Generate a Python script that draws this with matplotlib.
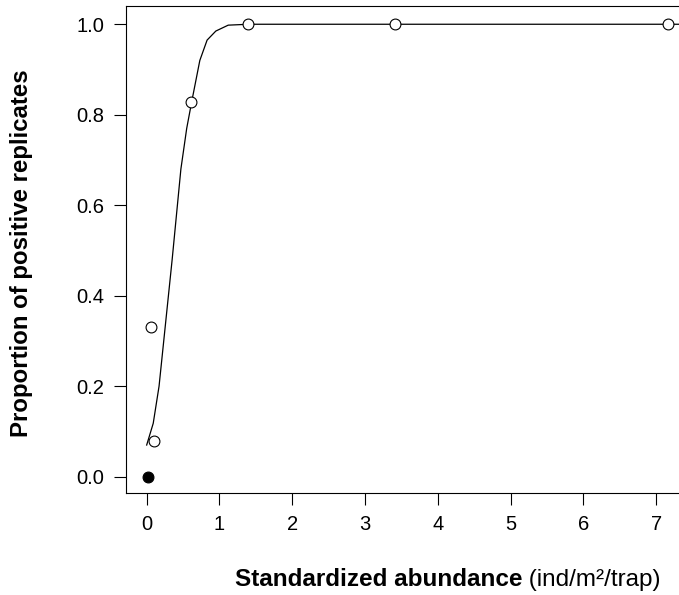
import matplotlib
matplotlib.use("Agg")
import matplotlib.pyplot as plt

# Observed proportions (open circles)
obs_x = [0.06, 0.10, 0.61, 1.39, 3.41, 7.16]
obs_y = [0.331, 0.079, 0.828, 1.0, 1.0, 1.0]
# Zero observation (filled circle)
zero_x = [0.02]
zero_y = [0.0]
# Fitted curve
curve_x = [0.0, 0.09, 0.17, 0.26, 0.35, 0.47, 0.55, 0.62, 0.73, 0.83, 0.95, 1.12, 1.40, 7.40]
curve_y = [0.07, 0.118, 0.20, 0.34, 0.48, 0.68, 0.77, 0.83, 0.92, 0.965, 0.985, 0.998, 1.0, 1.0]

xticks = [0, 1, 2, 3, 4, 5, 6, 7]
yticks = [0.0, 0.2, 0.4, 0.6, 0.8, 1.0]
ytick_labels = ["0.0", "0.2", "0.4", "0.6", "0.8", "1.0"]

plt.rcParams['font.family'] = ['Liberation Sans', 'DejaVu Sans']

W, H = 679, 595
fig = plt.figure(figsize=(W / 100, H / 100), dpi=100)
ax = fig.add_axes([126 / W, 102 / H, (W - 126) / W, (493 - 5.7) / H])

ax.plot(curve_x, curve_y, color='black', lw=0.9, zorder=2)
ax.plot(obs_x, obs_y, linestyle='none', marker='o', ms=7.8, mfc='white',
        mec='black', mew=0.8, zorder=3)
ax.plot(zero_x, zero_y, linestyle='none', marker='o', ms=7.8, mfc='black',
        mec='black', mew=0.8, zorder=3)

ax.set_xlim(-0.284, 7.312)
ax.set_ylim(-0.036, 1.041)
ax.set_xticks(xticks)
ax.set_yticks(yticks)
ax.set_yticklabels(ytick_labels)
ax.tick_params(axis='both', direction='out', length=8.5, width=0.8,
               labelsize=14.5, colors='black')
ax.tick_params(axis='x', pad=7)
ax.tick_params(axis='y', pad=7)
ax.spines['right'].set_visible(False)
for s in ['left', 'top', 'bottom']:
    ax.spines[s].set_linewidth(0.8)

# y label
fig.text(22 / W, 1 - 253 / H, "Proportion of positive replicates",
         rotation=90, ha='center', va='center', fontsize=17.3,
         fontweight='bold')

# x label: bold part + normal part
fig.canvas.draw()
r = fig.canvas.get_renderer()
t1 = fig.text(0, 1 - 580 / H, "Standardized abundance", fontsize=17.5,
              fontweight='bold', ha='left', va='center')
t2 = fig.text(0, 1 - 580 / H, " (ind/m²/trap)", fontsize=17.5,
              ha='left', va='center')
w1 = t1.get_window_extent(r).width
w2 = t2.get_window_extent(r).width
start = 448 - (w1 + w2) / 2
t1.set_x(start / W)
t2.set_x((start + w1) / W)

fig.savefig("out.png", dpi=100)
